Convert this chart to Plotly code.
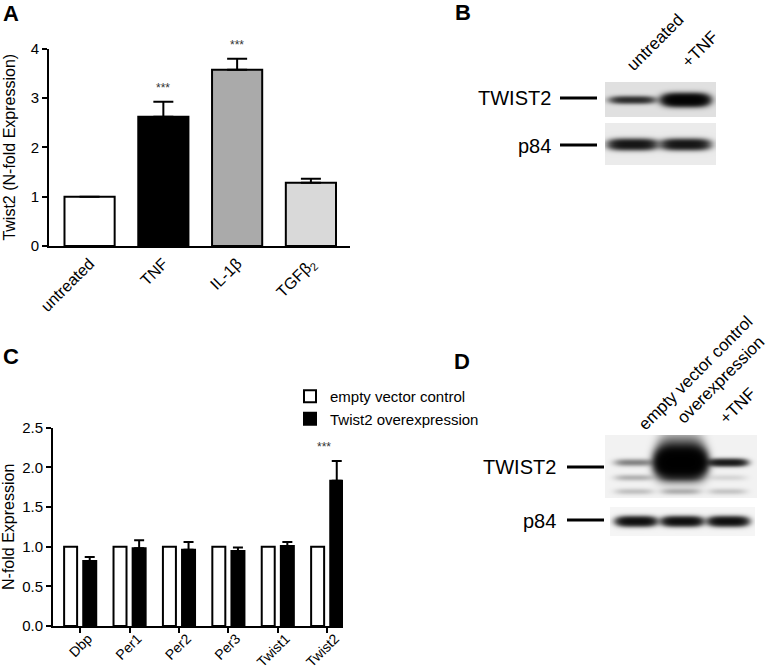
import numpy as np
import plotly.graph_objects as go

W, H = 769, 672
FONT = "Liberation Sans, Arial, sans-serif"


def px(x):
    return x / W


def py(y):
    return 1 - y / H


# ---------------- Panel A data ----------------
a_cats = ["untreated", "TNF", "IL-1β", "TGFβ<sub>2</sub>"]
a_vals = [1.0, 2.62, 3.57, 1.28]
a_err = [0.0, 0.30, 0.22, 0.08]
a_colors = ["#ffffff", "#000000", "#aaaaaa", "#d9d9d9"]
a_sig = ["", "***", "***", ""]

# ---------------- Panel C data ----------------
c_genes = ["Dbp", "Per1", "Per2", "Per3", "Twist1", "Twist2"]
c_ctrl = [1.0, 1.0, 1.0, 1.0, 1.0, 1.0]
c_over = [0.82, 0.98, 0.96, 0.945, 1.01, 1.83]
c_over_err = [0.05, 0.10, 0.10, 0.045, 0.05, 0.25]
c_sig = ["", "", "", "", "", "***"]
c_names = ["empty vector control", "Twist2 overexpression"]

# ---------------- Blot data (band intensities) ----------------
b_lanes = ["untreated", "+TNF"]
b_twist2_amp = [1.6, 4.5]
b_p84_amp = [2.4, 2.4]

d_lanes = ["empty vector control", "overexpression", "+TNF"]
d_twist2_main = [0.6, 7.0, 2.2]
d_twist2_mid = [0.3, 0.3, 0.12]
d_twist2_low = [0.22, 0.3, 0.2]
d_p84_amp = [2.8, 2.8, 2.8]

fig = go.Figure()

# Panel A bars
fig.add_trace(go.Bar(
    x=a_cats, y=a_vals, width=0.68,
    marker=dict(color=a_colors, line=dict(color="black", width=2)),
    error_y=dict(type="data", array=a_err, arrayminus=[0] * len(a_err),
                 symmetric=False, color="black", thickness=2, width=10),
    showlegend=False, xaxis="x", yaxis="y", hoverinfo="skip",
))

# Panel C bars
fig.add_trace(go.Bar(
    x=c_genes, y=c_ctrl, name=c_names[0], width=0.263, offset=-0.325,
    marker=dict(color="white", line=dict(color="black", width=2)),
    xaxis="x2", yaxis="y2", hoverinfo="skip",
))
fig.add_trace(go.Bar(
    x=c_genes, y=c_over, name=c_names[1], width=0.263, offset=0.062,
    marker=dict(color="black", line=dict(color="black", width=2)),
    error_y=dict(type="data", array=c_over_err, arrayminus=[0] * len(c_over_err),
                 symmetric=False, color="black", thickness=2, width=5),
    xaxis="x2", yaxis="y2", hoverinfo="skip",
))


# ---------------- Blot rendering ----------------
def blot_z(bands, xr, nx, ny, bg):
    xs = np.linspace(xr[0], xr[1], nx)
    ys = np.linspace(0, 1, ny)
    X, Y = np.meshgrid(xs, ys)
    S = np.zeros_like(X)
    for lane, yc, sy, hw, amp in bands:
        S += amp * np.exp(-np.abs((X - lane) / hw) ** 4) * np.exp(-((Y - yc) / sy) ** 2)
    Z = 1 - (1 - bg) * np.exp(-S)
    return xs, ys, Z


def add_blot(bands, xr, nx, ny, bg, ax):
    xs, ys, Z = blot_z(bands, xr, nx, ny, bg)
    fig.add_trace(go.Heatmap(
        x=xs, y=ys, z=Z, zmin=0, zmax=1, zsmooth="best",
        colorscale=[[0, "#ffffff"], [1, "#000000"]], showscale=False,
        hoverinfo="skip", xaxis="x" + ax, yaxis="y" + ax,
    ))
    return xr


blots = {}
# B TWIST2
bands = [(i, 0.5, 0.10 + 0.05 * i, 0.41, a) for i, a in enumerate(b_twist2_amp)]
blots["3"] = (add_blot(bands, (-0.51, 1.58), 112, 36, 0.12, "3"), (605, 716, 82, 117))
# B p84
bands = [(i, 0.5, 0.11, 0.43, a) for i, a in enumerate(b_p84_amp)]
blots["4"] = (add_blot(bands, (-0.51, 1.58), 112, 42, 0.08, "4"), (605, 716, 123, 165))
# D TWIST2
bands = []
for i in range(3):
    hw = 0.49 if i == 1 else 0.41
    sy = 0.19 if i == 1 else 0.055
    bands.append((i, 0.57, sy, hw, d_twist2_main[i]))
    bands.append((i, 0.33, 0.05, 0.41, d_twist2_mid[i]))
    bands.append((i, 0.11, 0.05, 0.41, d_twist2_low[i]))
bands.append((1, 0.82, 0.22, 0.46, 0.7))
blots["5"] = (add_blot(bands, (-0.62, 2.65), 152, 64, 0.05, "5"), (605, 757, 435, 498))
# D p84
bands = [(i, 0.52, 0.15, 0.42, a) for i, a in enumerate(d_p84_amp)]
blots["6"] = (add_blot(bands, (-0.57, 2.6), 145, 30, 0.04, "6"), (610, 755, 507, 536))

line_common = dict(showline=True, linecolor="black", linewidth=2, showgrid=False,
                   zeroline=False, automargin=False)

layout = dict(
    width=W, height=H, margin=dict(l=0, r=0, t=0, b=0),
    paper_bgcolor="white", plot_bgcolor="white",
    font=dict(family=FONT, color="black"),
    barmode="group",
    xaxis=dict(domain=[px(49), px(350)], anchor="y", range=[-0.55, 3.53],
               ticks="", tickangle=-45, tickfont=dict(family=FONT, size=16),
               **line_common),
    yaxis=dict(domain=[py(246), py(48.5)], anchor="x", range=[0, 4], dtick=1,
               ticks="outside", ticklen=5, tickwidth=2, tickcolor="black",
               tickfont=dict(family=FONT, size=15),
               title=dict(text="Twist2 (N-fold Expression)", font=dict(family=FONT, size=16),
                          standoff=11),
               **line_common),
    xaxis2=dict(domain=[px(53), px(343)], anchor="y2", range=[-0.55, 5.32],
                ticks="outside", ticklen=5, tickwidth=2, tickcolor="black",
                tickangle=-45, tickfont=dict(family=FONT, size=14),
                ticklabelshift=8, ticklabelstandoff=-8,
                **line_common),
    yaxis2=dict(domain=[py(626), py(427.7)], anchor="x2", range=[0, 2.5], dtick=0.5,
                tickformat=".1f", ticks="outside", ticklen=5, tickwidth=2, tickcolor="black",
                tickfont=dict(family=FONT, size=15),
                title=dict(text="N-fold Expression", font=dict(family=FONT, size=16),
                           standoff=5),
                **line_common),
    legend=dict(x=px(290), y=py(380), xanchor="left", yanchor="top",
                font=dict(family=FONT, size=15, color="black"),
                bgcolor="rgba(0,0,0,0)", tracegroupgap=0, traceorder="normal"),
)
for ax, (xr, (x0, x1, y0, y1)) in blots.items():
    layout["xaxis" + ax] = dict(domain=[px(x0), px(x1)], anchor="y" + ax, range=list(xr),
                                visible=False, fixedrange=True)
    layout["yaxis" + ax] = dict(domain=[py(y1), py(y0)], anchor="x" + ax, range=[0, 1],
                                visible=False, fixedrange=True)
fig.update_layout(**layout)

ann = []
# significance stars
for i, s in enumerate(a_sig):
    if s:
        ann.append(dict(x=a_cats[i], y=a_vals[i] + a_err[i], xref="x", yref="y",
                        text=s, showarrow=False, yanchor="bottom", yshift=5,
                        font=dict(family=FONT, size=12, color="#333")))
for i, s in enumerate(c_sig):
    if s:
        ann.append(dict(x=c_genes[i], y=c_over[i] + c_over_err[i], xref="x2", yref="y2",
                        text=s, showarrow=False, yanchor="bottom", yshift=5, xshift=-3,
                        font=dict(family=FONT, size=12, color="#333")))
# panel letters
for letter, (lx, ly) in {"A": (11, 13), "B": (463, 12), "C": (11, 356), "D": (462, 361)}.items():
    ann.append(dict(x=px(lx), y=py(ly), xref="paper", yref="paper", text="<b>%s</b>" % letter,
                    showarrow=False, xanchor="center", yanchor="middle",
                    font=dict(family=FONT, size=22, color="black")))
# blot row labels
for text, rx, ry in [("TWIST2", 553, 98), ("p84", 553, 146), ("TWIST2", 558, 467), ("p84", 558, 521)]:
    ann.append(dict(x=px(rx), y=py(ry), xref="paper", yref="paper", text=text,
                    showarrow=False, xanchor="right", yanchor="middle",
                    font=dict(family=FONT, size=20, color="black")))
# lane labels
lane_pos_b = [(655, 42), (700, 50)]
for t, (cx, cy) in zip(b_lanes, lane_pos_b):
    ann.append(dict(x=px(cx), y=py(cy), xref="paper", yref="paper", text=t, textangle=-45,
                    showarrow=False, xanchor="center", yanchor="middle",
                    font=dict(family=FONT, size=17, color="black")))
lane_pos_d = [(695, 373), (720, 380), (737, 406)]
for t, (cx, cy) in zip(d_lanes, lane_pos_d):
    ann.append(dict(x=px(cx), y=py(cy), xref="paper", yref="paper", text=t, textangle=-45,
                    showarrow=False, xanchor="center", yanchor="middle",
                    font=dict(family=FONT, size=17, color="black")))
fig.update_layout(annotations=ann)

shapes = []
for x0, x1, y in [(560, 597, 98), (560, 597, 145), (567, 604, 467), (567, 604, 520)]:
    shapes.append(dict(type="line", xref="paper", yref="paper", x0=px(x0), x1=px(x1),
                       y0=py(y), y1=py(y), line=dict(color="black", width=3)))
fig.update_layout(shapes=shapes)

fig.write_html("out.html", config={"displayModeBar": False},
               post_script="document.body.style.margin='0px';document.body.style.overflow='hidden';")
